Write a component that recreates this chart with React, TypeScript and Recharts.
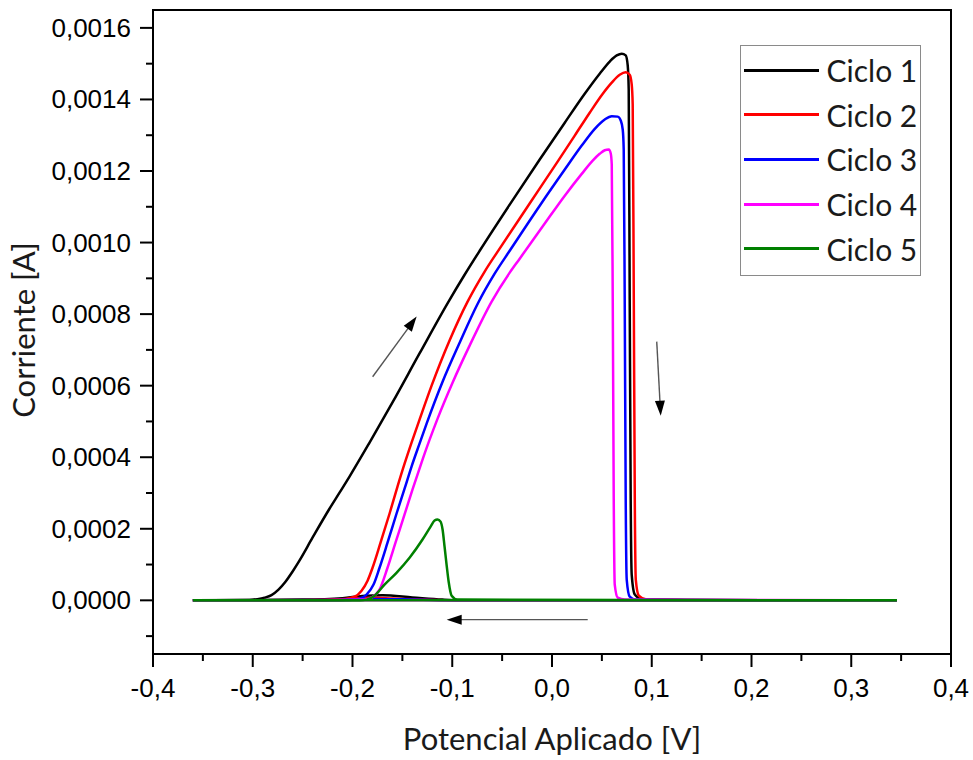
import React from 'react';
import { LineChart, Line, XAxis, YAxis, ReferenceArea, ReferenceLine, Legend } from 'recharts';

// ---------- series: forward sweep (x rising) then return sweep (x falling) ----------
const cycle1X = [-0.36, -0.3034, -0.2953, -0.2882, -0.2812, -0.2742, -0.2672, -0.2602, -0.2532, -0.2401, -0.2231, -0.213, -0.203, -0.1829, -0.1599, -0.1328, -0.1037, -0.0876, -0.0725, -0.0424, -0.0123, 0.0128, 0.0328, 0.0478, 0.0579, 0.0649, 0.0699, 0.0739, 0.0759, 0.0769, 0.0779, 0.0789, 0.0799, 0.083, 0.09, 0.148, 0.3457, 0.2, 0.0, -0.09, -0.11, -0.14, -0.17, -0.19, -0.21, -0.25, -0.36];
const cycle1Y = [0, 0.000001, 0.0000034, 0.0000075, 0.0000145, 0.00003, 0.000052, 0.00008, 0.000111, 0.000175, 0.000256, 0.000301, 0.000346, 0.000441, 0.000553, 0.00069, 0.000835, 0.00091, 0.000977, 0.001106, 0.001232, 0.001335, 0.001416, 0.001472, 0.001506, 0.001523, 0.001528, 0.001523, 0.001495, 0.001428, 0.000841, 0.000282, 0.000072, 0.000016, 0.000003, 0.000001, 0, 0, 0, 0, 0.000002, 0.000008, 0.000014, 0.000012, 0.000006, 0.000002, 0];

const cycle2X = [-0.36, -0.25, -0.213, -0.1979, -0.1909, -0.1849, -0.1799, -0.1719, -0.1629, -0.1549, -0.1478, -0.1408, -0.1328, -0.1207, -0.1026, -0.0846, -0.0675, -0.0525, -0.0224, 0.0058, 0.0228, 0.0378, 0.0509, 0.0599, 0.0679, 0.0739, 0.0779, 0.0799, 0.0809, 0.082, 0.083, 0.084, 0.087, 0.094, 0.148, 0.3457, 0.2, 0.0, -0.1, -0.13, -0.16, -0.18, -0.2, -0.23, -0.36];
const cycle2Y = [0, 0, 0.000002, 0.0000103, 0.000027, 0.000055, 0.000091, 0.000161, 0.000242, 0.000318, 0.000382, 0.000441, 0.000505, 0.0006, 0.000727, 0.000835, 0.000919, 0.000983, 0.001109, 0.001227, 0.001299, 0.001363, 0.001416, 0.001447, 0.001469, 0.001476, 0.001469, 0.001442, 0.001386, 0.000841, 0.000282, 0.000058, 0.000013, 0.000003, 0.000001, 0, 0, 0, 0, 0.000002, 0.000005, 0.000007, 0.000005, 0.000001, 0];

const cycle3X = [-0.36, -0.24, -0.203, -0.1929, -0.1859, -0.1789, -0.1729, -0.1649, -0.1559, -0.1478, -0.1408, -0.1328, -0.1257, -0.1097, -0.0926, -0.0745, -0.0575, -0.0424, -0.0123, 0.0128, 0.0298, 0.0429, 0.0529, 0.0599, 0.0659, 0.0689, 0.0709, 0.0719, 0.0729, 0.0739, 0.0749, 0.0779, 0.084, 0.148, 0.3457, 0.2, 0.0, -0.1, -0.15, -0.18, -0.22, -0.36];
const cycle3Y = [0, 0, 0.000001, 0.0000048, 0.000016, 0.000044, 0.000091, 0.000161, 0.000242, 0.000312, 0.000374, 0.000438, 0.000494, 0.000611, 0.00072, 0.000829, 0.000913, 0.000977, 0.001103, 0.001204, 0.001271, 0.001318, 0.001344, 0.001353, 0.001352, 0.001341, 0.001316, 0.00126, 0.000841, 0.000282, 0.000058, 0.0000103, 0.000002, 0.000001, 0, 0, 0, 0, 0.000003, 0.000004, 0.000001, 0];

const cycle4X = [-0.36, -0.24, -0.1879, -0.1809, -0.1729, -0.1649, -0.1569, -0.1478, -0.1398, -0.1308, -0.1227, -0.1147, -0.0996, -0.0826, -0.0605, -0.0424, -0.0324, -0.0073, 0.0128, 0.0298, 0.0408, 0.0478, 0.0529, 0.0569, 0.0589, 0.0599, 0.0609, 0.0619, 0.0629, 0.0659, 0.0729, 0.1701, 0.3457, 0.2, 0.0, -0.36];
const cycle4Y = [0, 0, 0.000002, 0.0000075, 0.00003, 0.000091, 0.000161, 0.00024, 0.00031, 0.000385, 0.000449, 0.000508, 0.000609, 0.000712, 0.000835, 0.000916, 0.000955, 0.001053, 0.001131, 0.001192, 0.001229, 0.001248, 0.001258, 0.00126, 0.001249, 0.001218, 0.000841, 0.000282, 0.000044, 0.0000075, 0.000002, 0.000001, 0, 0, 0, 0];

const cycle5X = [-0.36, -0.1929, -0.1859, -0.1779, -0.1679, -0.1559, -0.1428, -0.1298, -0.1217, -0.1177, -0.1147, -0.1117, -0.1097, -0.1077, -0.1057, -0.1036, -0.1006, -0.0946, 0.3457, -0.36];
const cycle5Y = [0, 0, 0.000002, 0.000013, 0.000044, 0.000077, 0.000119, 0.00017, 0.000206, 0.000223, 0.000226, 0.00022, 0.000198, 0.00015, 0.0001, 0.000052, 0.000013, 0.000002, 0, 0];

const SERIES_NAMES = ['Ciclo 1', 'Ciclo 2', 'Ciclo 3', 'Ciclo 4', 'Ciclo 5'];
const SERIES_COLORS = ['#000000', '#ff0000', '#0000ff', '#ff00ff', '#008000'];

// ---------- ticks ----------
const X_MAJOR = [-0.4, -0.3, -0.2, -0.1, 0, 0.1, 0.2, 0.3, 0.4];
const X_LABELS = ['-0,4', '-0,3', '-0,2', '-0,1', '0,0', '0,1', '0,2', '0,3', '0,4'];
const X_MINOR = [-0.35, -0.25, -0.15, -0.05, 0.05, 0.15, 0.25, 0.35];
const Y_MAJOR = [0, 0.0002, 0.0004, 0.0006, 0.0008, 0.001, 0.0012, 0.0014, 0.0016];
const Y_LABELS = ['0,0000', '0,0002', '0,0004', '0,0006', '0,0008', '0,0010', '0,0012', '0,0014', '0,0016'];
const Y_MINOR = [-0.0001, 0.0001, 0.0003, 0.0005, 0.0007, 0.0009, 0.0011, 0.0013, 0.0015];

// ---------- annotation arrows (start -> tip) ----------
const ARROW_START_X = [-0.1798, 0.105, 0.0358];
const ARROW_START_Y = [0.000625, 0.000723, -0.000054];
const ARROW_END_X = [-0.1357, 0.109, -0.1056];
const ARROW_END_Y = [0.000793, 0.000516, -0.000054];

const X_DOMAIN = [-0.4, 0.4];
const Y_DOMAIN = [-0.00015, 0.00165];

const seriesX = [cycle1X, cycle2X, cycle3X, cycle4X, cycle5X];
const seriesY = [cycle1Y, cycle2Y, cycle3Y, cycle4Y, cycle5Y];

// split each loop at its turning point so each branch is ordered in x
const branches = seriesX.map((xs, i) => {
  const pts = xs.map((x, j) => ({ x, y: seriesY[i][j] }));
  let turn = 0;
  xs.forEach((x, j) => {
    if (x > xs[turn]) turn = j;
  });
  const forward = pts.slice(0, turn + 1);
  const back = pts.slice(turn).reverse();
  return { forward, back };
});

const X_TICKS = [...X_MAJOR, ...X_MINOR].sort((a, b) => a - b);
const Y_TICKS = [...Y_MAJOR, ...Y_MINOR].sort((a, b) => a - b);

const TICK_FONT = '"Liberation Sans", Arial, sans-serif';
const TITLE_FONT = 'Lato, "Open Sans", sans-serif';

const XTick = (props: any) => {
  const { x, y, payload } = props;
  const idx = X_MAJOR.findIndex((m) => Math.abs(m - payload.value) < 1e-9);
  const major = idx >= 0;
  return (
    <g>
      <line x1={x} y1={y} x2={x} y2={y + (major ? 13 : 7)} stroke="#000" strokeWidth={2} />
      {major && (
        <text x={x} y={y + 43} textAnchor="middle" fontFamily={TICK_FONT} fontSize={26} fill="#000">
          {X_LABELS[idx]}
        </text>
      )}
    </g>
  );
};

const YTick = (props: any) => {
  const { x, y, payload } = props;
  const idx = Y_MAJOR.findIndex((m) => Math.abs(m - payload.value) < 1e-12);
  const major = idx >= 0;
  return (
    <g>
      <line x1={x} y1={y} x2={x - (major ? 13 : 7)} y2={y} stroke="#000" strokeWidth={2} />
      {major && (
        <text x={x - 22} y={y + 9} textAnchor="end" fontFamily={TICK_FONT} fontSize={26} fill="#000">
          {Y_LABELS[idx]}
        </text>
      )}
    </g>
  );
};

const XTitle = (props: any) => {
  const vb = props.viewBox || { x: 153, y: 654, width: 798, height: 106 };
  return (
    <text x={vb.x + vb.width / 2} y={vb.y + 96} textAnchor="middle" fontFamily={TITLE_FONT} fontSize={31} fill="#1a1a1a">
      Potencial Aplicado [V]
    </text>
  );
};

const YTitle = (props: any) => {
  const vb = props.viewBox || { x: 0, y: 10, width: 153, height: 644 };
  const cx = vb.x + 23;
  const cy = vb.y + vb.height / 2 - 2;
  return (
    <text x={cx} y={cy} transform={`rotate(-90, ${cx}, ${cy})`} textAnchor="middle" dominantBaseline="central" fontFamily={TITLE_FONT} fontSize={31} fill="#1a1a1a">
      Corriente [A]
    </text>
  );
};

const arrowShape = (props: any) => {
  const { x1, y1, x2, y2 } = props;
  const dx = x2 - x1;
  const dy = y2 - y1;
  const len = Math.hypot(dx, dy) || 1;
  const ux = dx / len;
  const uy = dy / len;
  const hl = 15;
  const hw = 5;
  const bx = x2 - ux * hl;
  const by = y2 - uy * hl;
  const px = -uy;
  const py = ux;
  return (
    <g>
      <line x1={x1} y1={y1} x2={bx + ux * 2} y2={by + uy * 2} stroke="#555" strokeWidth={1.4} />
      <polygon points={`${x2},${y2} ${bx + px * hw},${by + py * hw} ${bx - px * hw},${by - py * hw}`} fill="#000" />
    </g>
  );
};

const renderLegend = () => (
  <div
    style={{
      boxSizing: 'border-box',
      width: 181,
      height: 231,
      border: '1.5px solid #8a8a8a',
      background: '#fff',
      position: 'relative',
    }}
  >
    {SERIES_NAMES.map((name, i) => (
      <div
        key={name}
        style={{
          position: 'absolute',
          left: 2.5,
          top: 2.2 + i * 44.6,
          height: 44,
          display: 'flex',
          alignItems: 'center',
        }}
      >
        <span style={{ display: 'inline-block', width: 75, height: 3, background: SERIES_COLORS[i] }} />
        <span style={{ marginLeft: 8, fontFamily: TITLE_FONT, fontSize: 30, color: '#1a1a1a', lineHeight: '44px', whiteSpace: 'nowrap' }}>
          {name}
        </span>
      </div>
    ))}
  </div>
);

export default function App() {
  return (
    <div style={{ position: 'absolute', left: 0, top: 0, width: 973, height: 760, background: '#fff' }}>
      <LineChart width={973} height={760} margin={{ top: 10, right: 22, bottom: 0, left: 0 }}>
        <XAxis
          type="number"
          dataKey="x"
          domain={X_DOMAIN}
          ticks={X_TICKS}
          interval={0}
          allowDataOverflow
          height={106}
          tickSize={0}
          tickMargin={0}
          tickLine={false}
          axisLine={{ stroke: '#000', strokeWidth: 2 }}
          tick={(p: any) => <XTick {...p} />}
          label={{ content: (p: any) => <XTitle {...p} /> }}
        />
        <YAxis
          type="number"
          dataKey="y"
          domain={Y_DOMAIN}
          ticks={Y_TICKS}
          interval={0}
          allowDataOverflow
          width={153}
          tickSize={0}
          tickMargin={0}
          tickLine={false}
          axisLine={{ stroke: '#000', strokeWidth: 2 }}
          tick={(p: any) => <YTick {...p} />}
          label={{ content: (p: any) => <YTitle {...p} /> }}
        />
        <ReferenceArea x1={X_DOMAIN[0]} x2={X_DOMAIN[1]} y1={Y_DOMAIN[0]} y2={Y_DOMAIN[1]} fill="none" fillOpacity={0} stroke="#000" strokeWidth={2} />
        {ARROW_START_X.map((sx, i) => (
          <ReferenceLine
            key={`arrow-${i}`}
            segment={[
              { x: sx, y: ARROW_START_Y[i] },
              { x: ARROW_END_X[i], y: ARROW_END_Y[i] },
            ]}
            shape={arrowShape}
          />
        ))}
        {branches.flatMap((b, i) => [
          <Line
            key={`${SERIES_NAMES[i]}-back`}
            data={b.back}
            dataKey="y"
            name={SERIES_NAMES[i]}
            type="monotone"
            stroke={SERIES_COLORS[i]}
            strokeWidth={2.5}
            dot={false}
            activeDot={false}
            legendType="none"
            isAnimationActive={false}
          />,
          <Line
            key={`${SERIES_NAMES[i]}-fwd`}
            data={b.forward}
            dataKey="y"
            name={SERIES_NAMES[i]}
            type="monotone"
            stroke={SERIES_COLORS[i]}
            strokeWidth={2.5}
            dot={false}
            activeDot={false}
            isAnimationActive={false}
          />,
        ])}
        <Legend
          layout="horizontal"
          verticalAlign="middle"
          align="center"
          content={renderLegend}
          wrapperStyle={{ left: 740, top: 45, width: 181, height: 231 }}
        />
      </LineChart>
    </div>
  );
}
